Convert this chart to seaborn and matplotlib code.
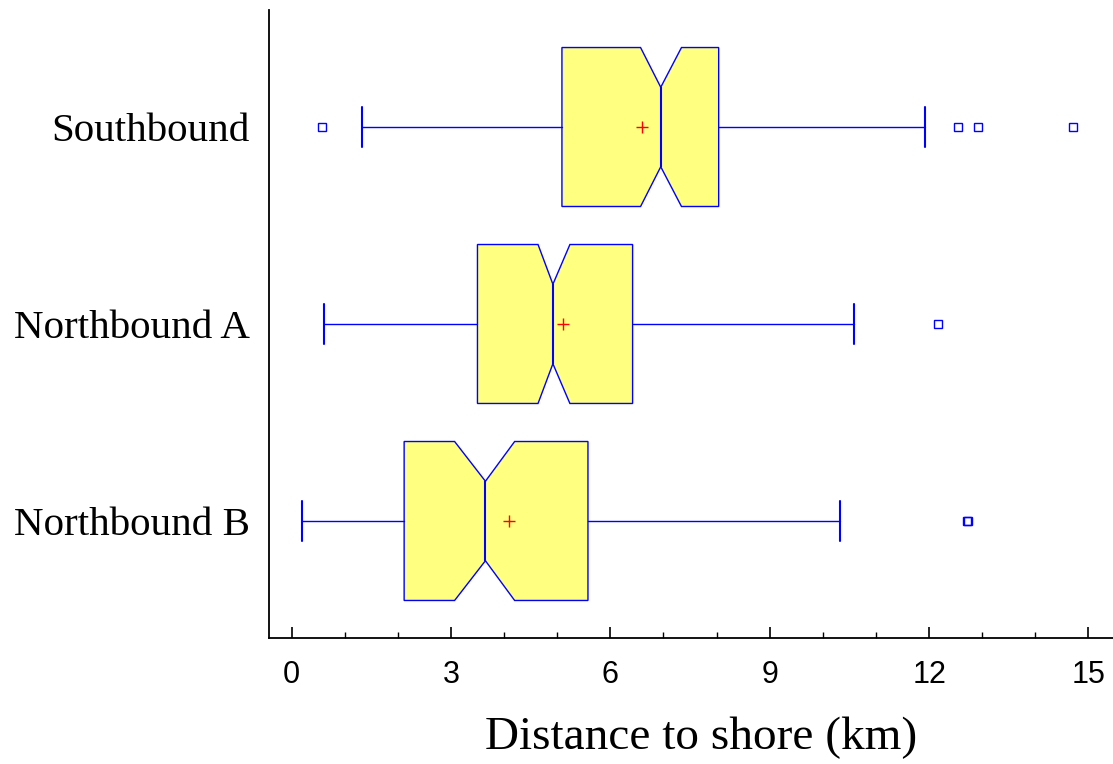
import matplotlib
matplotlib.use("Agg")
import matplotlib.pyplot as plt
import seaborn as sns
from matplotlib.ticker import MultipleLocator

# 各グループの箱ひげ図の統計値
groups = ["Southbound", "Northbound A", "Northbound B"]
q1 = [5.09, 3.50, 2.12]
medians = [6.95, 4.92, 3.65]
q3 = [8.04, 6.42, 5.58]
whisker_lo = [1.33, 0.61, 0.20]
whisker_hi = [11.93, 10.59, 10.33]
means = [6.60, 5.11, 4.09]
notch_lo = [6.57, 4.64, 3.07]
notch_hi = [7.34, 5.24, 4.20]
outliers = [[0.58, 12.55, 12.93, 14.70], [12.16], [12.72, 12.74]]

sns.set_theme(style="ticks")
plt.rcParams['font.family'] = ['Liberation Serif', 'DejaVu Serif']
plt.rcParams['text.color'] = 'black'
plt.rcParams['xtick.color'] = 'black'
plt.rcParams['ytick.color'] = 'black'
plt.rcParams['axes.labelcolor'] = 'black'

stats = []
for i, g in enumerate(groups):
    stats.append(dict(label=g, q1=q1[i], med=medians[i], q3=q3[i],
                      whislo=whisker_lo[i], whishi=whisker_hi[i],
                      mean=means[i], cilo=notch_lo[i], cihi=notch_hi[i],
                      fliers=outliers[i]))

fig = plt.figure(figsize=(11.13, 7.64), dpi=100)
ax = fig.add_axes([269 / 1113, 1 - 638 / 764, 1 - 269 / 1113, (638 - 10) / 764])

blue = "#0000ff"
ax.bxp(stats, positions=[0, 1, 2], widths=0.807, capwidths=0.2,
       orientation='horizontal', patch_artist=True, shownotches=True,
       showmeans=True,
       boxprops=dict(facecolor="#ffff80", edgecolor=blue, linewidth=1.0),
       whiskerprops=dict(color=blue, linewidth=1.0),
       capprops=dict(color=blue, linewidth=1.5),
       medianprops=dict(color=blue, linewidth=1.5),
       meanprops=dict(marker='+', markeredgecolor='red', markersize=9,
                      markeredgewidth=1.0),
       flierprops=dict(marker='s', markerfacecolor='none',
                       markeredgecolor=blue, markersize=5.5,
                       markeredgewidth=1.0))

ax.set_xlim(-0.4235, 15.462)
ax.set_ylim(2.594, -0.594)
ax.set_yticks([0, 1, 2])
ax.set_yticklabels(groups, fontsize=29.5, color='black')
ax.tick_params(axis='y', length=0, pad=14)

ax.xaxis.set_major_locator(MultipleLocator(3))
ax.xaxis.set_minor_locator(MultipleLocator(1))
ax.tick_params(axis='x', which='major', direction='in', length=8, width=1.2,
               color='black', pad=16, labelsize=22, labelcolor='black')
ax.tick_params(axis='x', which='minor', direction='in', length=4.5, width=1.0,
               color='black')
for lab in ax.get_xticklabels():
    lab.set_fontfamily(['Liberation Sans', 'DejaVu Sans'])

ax.set_xlabel("Distance to shore (km)", fontsize=34, color='black')
ax.xaxis.set_label_coords((701 - 269) / 844, -0.125, transform=ax.transAxes)
ax.xaxis.label.set_verticalalignment('top')

for s in ['top', 'right']:
    ax.spines[s].set_visible(False)
for s in ['left', 'bottom']:
    ax.spines[s].set_color('black')
    ax.spines[s].set_linewidth(1.3)
ax.grid(False)

fig.savefig("out.png", dpi=100)
plt.close()
